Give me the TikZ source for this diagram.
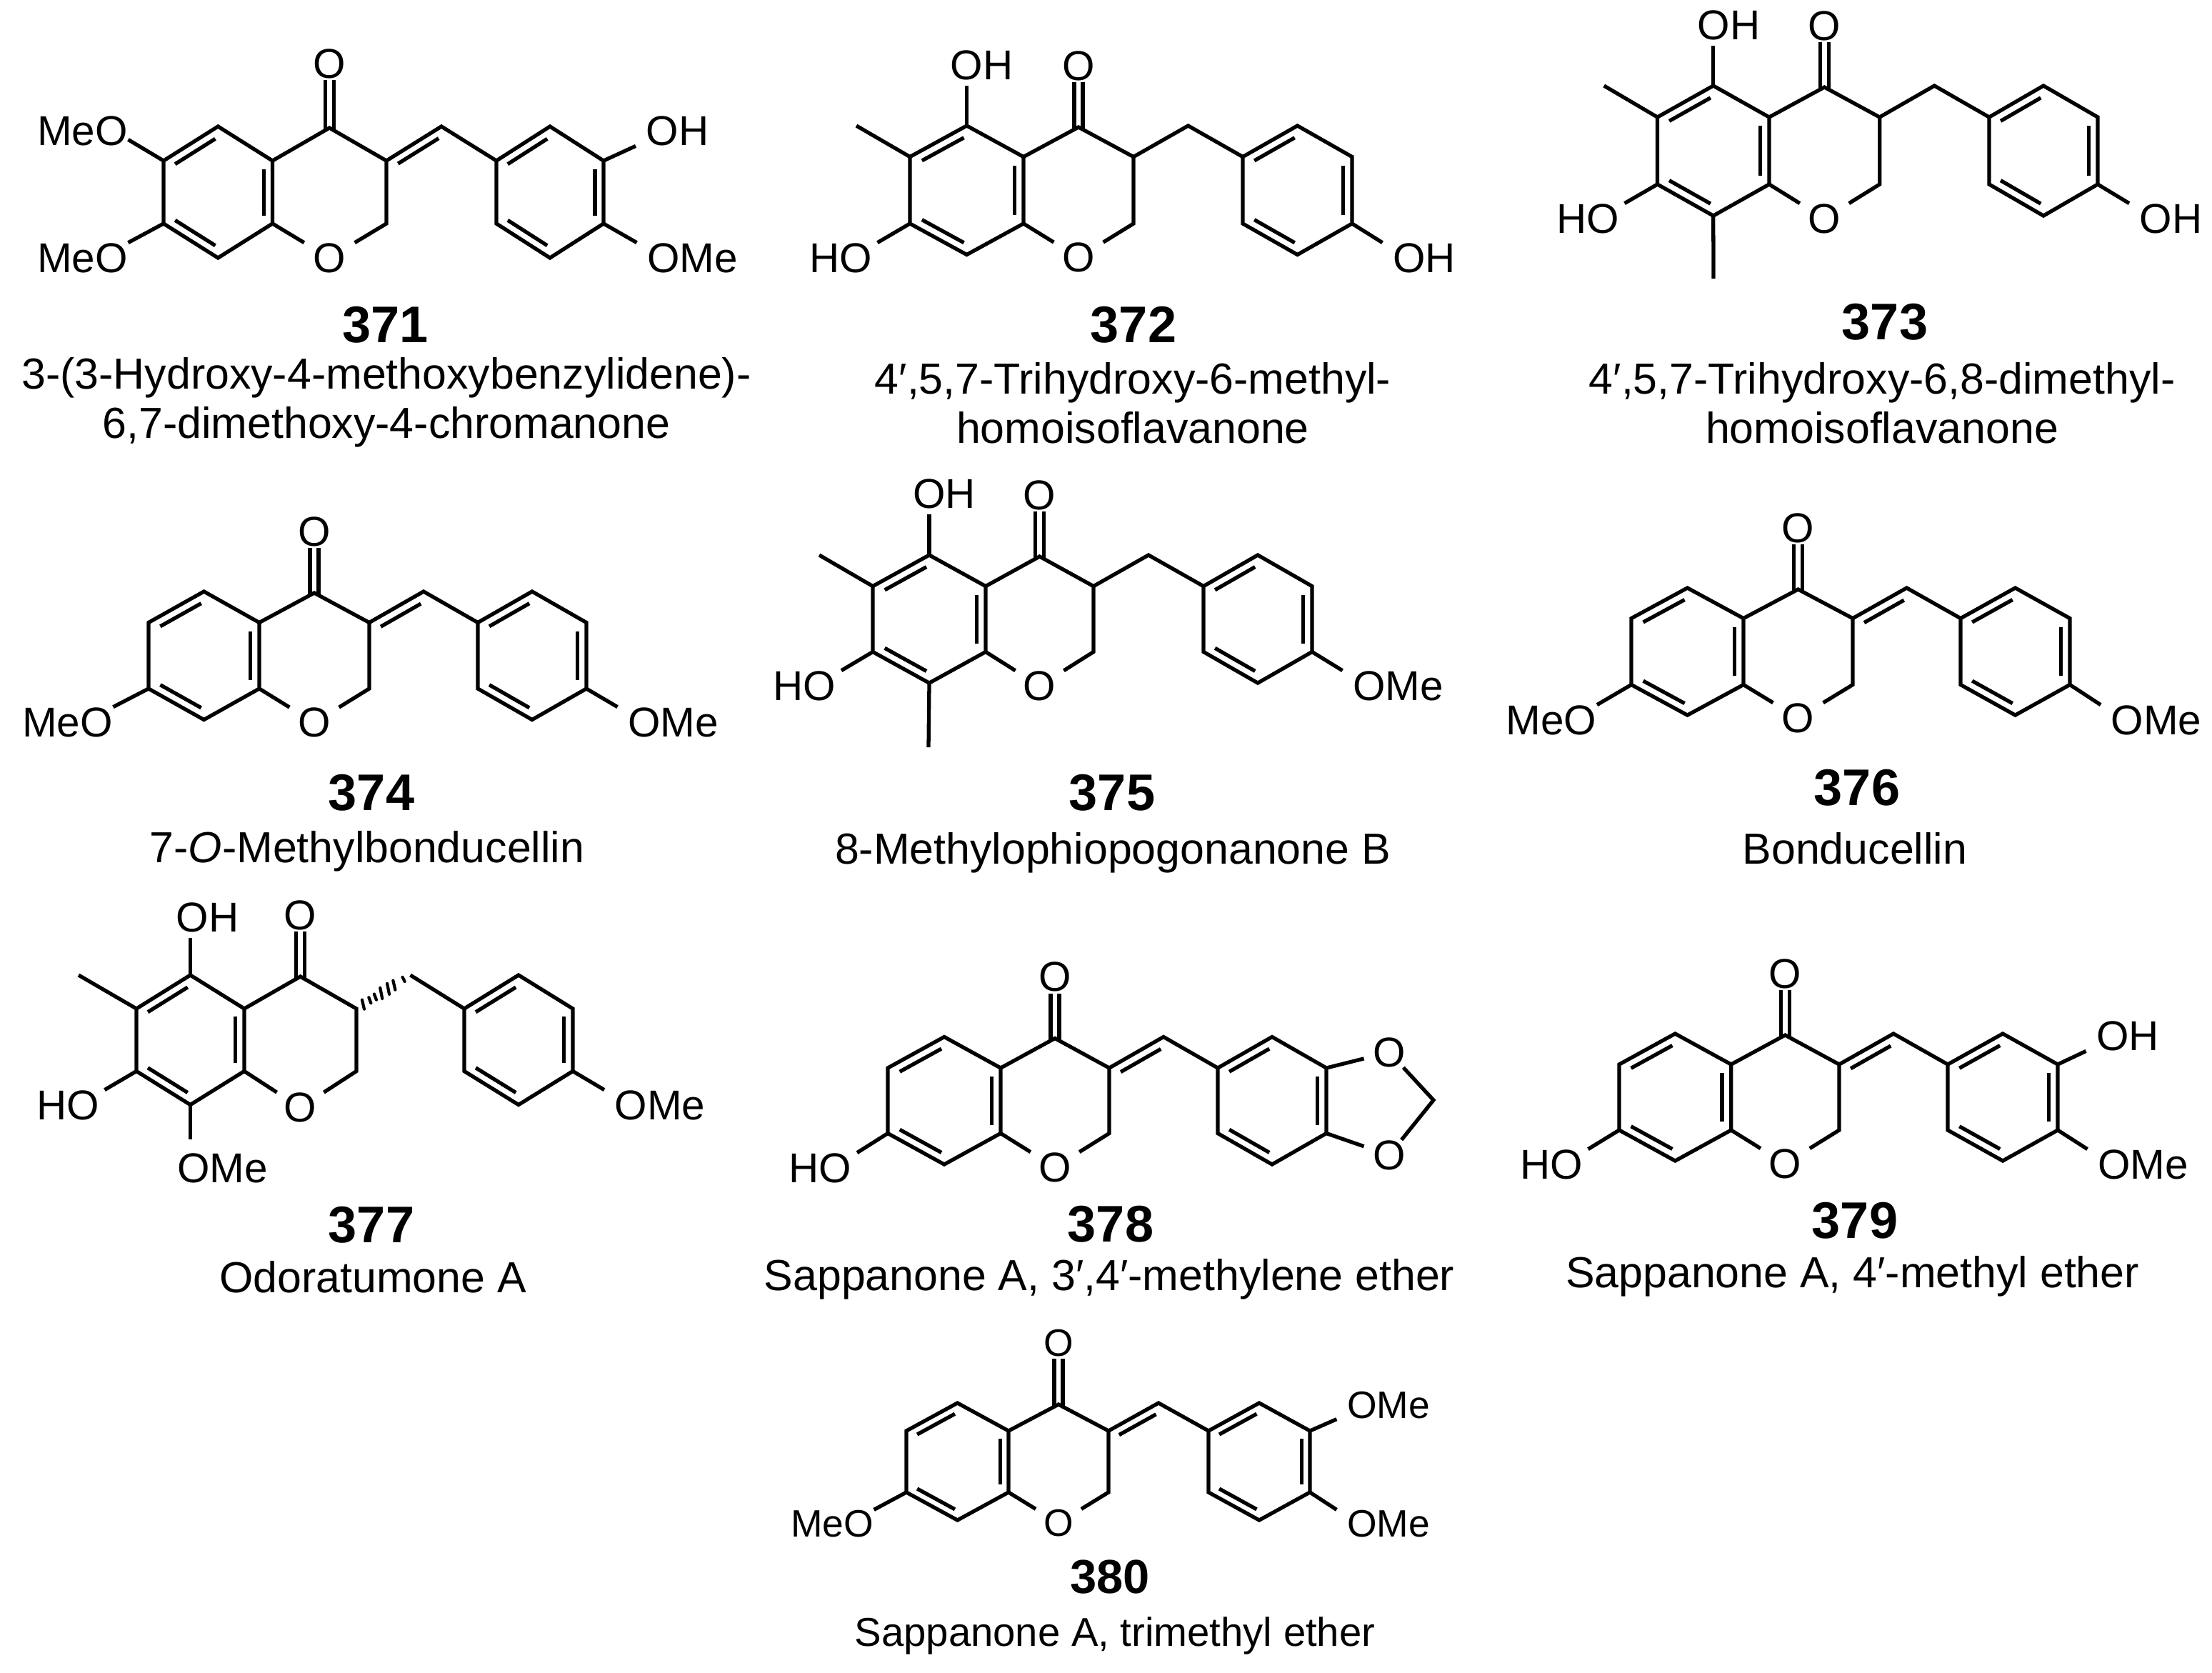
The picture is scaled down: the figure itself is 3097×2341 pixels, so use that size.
\documentclass[tikz,border=0pt]{standalone}
\usepackage{fontspec}
\setmainfont{Liberation Sans}
\usetikzlibrary{calc}

\tikzset{
	bond/.style = {line width=1.5pt},
	gapbond/.style = {bond, shorten >=.075cm},
	hash/.style = {line width=1.2pt, line cap=round},
	atomfont/.style = {font=\fontsize{16.6}{18}\selectfont},
	atom/.style = {atomfont, inner ysep=0pt, inner xsep=0pt},
	atomh/.style = {atom, inner xsep=.07cm},
	atomr/.style = {atom, inner xsep=.14cm},
	ringo/.style = {atom, inner xsep=.12cm},
	num/.style = {font=\fontsize{20.5}{22}\selectfont\bfseries, inner sep=0pt},
	cname/.style = {font=\fontsize{17.3}{19.6}\selectfont, align=center, inner sep=0pt}
}

% #1 prefix, #2..#6 x of c6, c4a, c3, a1, a3, #7..#9 y of c5, c4a, c8a
\newcommand{\skeleton}[9]{
	\coordinate (#1c6) at (#2,#8);
	\coordinate (#1c7) at (#2,#9);
	\coordinate (#1c5) at ({(#2+#3)/2},#7);
	\coordinate (#1c8) at ({(#2+#3)/2},{#9+#8-#7});
	\coordinate (#1c4a) at (#3,#8);
	\coordinate (#1c8a) at (#3,#9);
	\coordinate (#1c4) at ({(#3+#4)/2},{#7+2});
	\coordinate (#1c3) at (#4,#8);
	\coordinate (#1c2) at (#4,#9);
	\coordinate (#1cx) at ({(#4+#5)/2},#7);
	\coordinate (#1a1) at (#5,#8);
	\coordinate (#1a6) at (#5,#9);
	\coordinate (#1a2) at ({(#5+#6)/2},#7);
	\coordinate (#1a5) at ({(#5+#6)/2},{#9+#8-#7});
	\coordinate (#1a3) at (#6,#8);
	\coordinate (#1a4) at (#6,#9);
	% ring centres, for the inner lines of the double bonds
	\coordinate (#1ca) at ({(#2+#3)/2},{(#8+#9)/2});
	\coordinate (#1cb) at ({(#5+#6)/2},{(#8+#9)/2});
	\coordinate (#1ce) at ({(#4+#5)/2},{#7+#9-#8});
	\node[ringo] (#1o1) at ({(#3+#4)/2},{#9+#8-#7+4}) {O};
	\node[ringo] (#1oxo) at ({(#3+#4)/2},{#7-84}) {O};
	\draw[bond] (#1c4a) -- (#1c5) -- (#1c6) -- (#1c7) -- (#1c8) -- (#1c8a) -- cycle;
	\draw[bond] (#1c4a) -- (#1c4) -- (#1c3) -- (#1c2) -- (#1o1) -- (#1c8a);
	\draw[bond] (#1a1) -- (#1a2) -- (#1a3) -- (#1a4) -- (#1a5) -- (#1a6) -- cycle;
	\draw[bond] ($(#1c4)+(-6,4)$) -- ($(#1oxo.south)+(-6,2)$);
	\draw[bond] ($(#1c4)+(6,4)$) -- ($(#1oxo.south)+(6,2)$);
	\inbond{#1c5}{#1c6}{#1ca}
	\inbond{#1c7}{#1c8}{#1ca}
	\inbond{#1c8a}{#1c4a}{#1ca}
	\inbond{#1a1}{#1a2}{#1cb}
	\inbond{#1a3}{#1a4}{#1cb}
	\inbond{#1a5}{#1a6}{#1cb}
}
\newcommand{\inbond}[3]{
	\draw[bond] ($(#1)!.17!(#3)!.05!(#2)$) -- ($(#2)!.17!(#3)!.05!(#1)$);
}
\newcommand{\exodbl}[1]{
	\draw[bond] (#1c3) -- (#1cx) -- (#1a1);
	\inbond{#1c3}{#1cx}{#1ce}
}
\newcommand{\benzyl}[1]{
	\draw[bond] (#1c3) -- (#1cx) -- (#1a1);
}

\begin{document}
\begin{tikzpicture}[x=.01cm, y=-.01cm]
	\useasboundingbox (0,0) rectangle (3097,2341);

	% 371
	\begin{scope}[ringo/.append style = {yshift=.04cm}]
		\skeleton{u}{229}{381.5}{541}{695}{845}{177}{225}{313}
	\end{scope}
	\exodbl{u}
	\node[atom] (uo6) at (115.5,183) {MeO};
	\node[atom] (uo7) at (115.5,361) {MeO};
	\node[atomr] (uoh) at (948.5,183) {OH};
	\node[atomr] (uome) at (969.5,361) {OMe};
	\draw[bond] (uc6) -- (uo6.-11);
	\draw[bond] (uc7) -- (uo7.north east);
	\draw[bond] (ua3) -- (uoh.south west);
	\draw[bond] (ua4) -- (uome.north west);
	\node[num] (un) at (539.5,455) {371};
	\node[cname] at (541,563) {3-(3-Hydroxy-4-methoxybenzylidene)-\\6,7-dimethoxy-4-chromanone};

	% 372
	\skeleton{v}{1274}{1433}{1587}{1740}{1893}{176}{219.5}{313}
	\benzyl{v}
	\coordinate (vme) at (1199,176);
	\node[atom] (voh) at (1374.5,91) {OH};
	\node[atomh] (vho) at (1177,361) {HO};
	\node[atomr] (voh4) at (1994,361) {OH};
	\draw[bond] (vc6) -- (vme);
	\draw[gapbond] (vc5) -- (vc5 |- voh.south);
	\draw[bond] (vc7) -- (vho.north east);
	\draw[bond] (va4) -- (voh4.north west);
	\node[num] (vn) at (1587,455) {372};
	\node[cname] at (1586,564) {4′,5,7-Trihydroxy-6-methyl-\\homoisoflavanone};

	% 373
	\skeleton{w}{2320.5}{2477}{2631.6}{2785}{2937}{120}{164}{258}
	\benzyl{w}
	\coordinate (wme) at (2245.7,120);
	\coordinate (wme8) at (2399,390);
	\node[atom] (woh) at (2420.5,35) {OH};
	\node[atomh] (who) at (2223,306) {HO};
	\node[atomr] (woh4) at (3039.5,306) {OH};
	\draw[bond] (wc6) -- (wme);
	\draw[bond] (wc8) -- (wme8);
	\draw[gapbond] (wc5) -- (wc5 |- woh.south);
	\draw[bond] (wc7) -- (who.north east);
	\draw[bond] (wa4) -- (woh4.north west);
	\node[num] (wn) at (2639,451) {373};
	\node[cname] at (2635,564) {4′,5,7-Trihydroxy-6,8-dimethyl-\\homoisoflavanone};

	% 374
	\skeleton{x}{208}{363}{517}{669}{821}{828}{871.5}{964}
	\exodbl{x}
	\node[atom] (xo7) at (94.5,1011) {MeO};
	\node[atomr] (xome) at (942.5,1011) {OMe};
	\draw[bond] (xc7) -- (xo7.north east);
	\draw[bond] (xa4) -- (xome.north west);
	\node[num] (xn) at (520,1110) {374};
	\node[cname] at (514,1192) {7-\textit{O}-Methylbonducellin};

	% 375
	\skeleton{y}{1222}{1380}{1531}{1685}{1837}{777}{820.6}{912.5}
	\benzyl{y}
	\coordinate (yme) at (1147,777);
	\coordinate (yme8) at (1300,1046);
	\node[atom] (yoh) at (1322,691) {OH};
	\node[atomh] (yho) at (1126.5,960) {HO};
	\node[atomr] (yome) at (1957.5,960) {OMe};
	\draw[bond] (yc6) -- (yme);
	\draw[bond] (yc8) -- (yme8);
	\draw[gapbond] (yc5) -- (yc5 |- yoh.south);
	\draw[bond] (yc7) -- (yho.north east);
	\draw[bond] (ya4) -- (yome.north west);
	\node[num] (yn) at (1557,1110) {375};
	\node[cname] at (1558,1194) {8-Methylophiopogonanone B};

	% 376
	\skeleton{z}{2284}{2441}{2594}{2745}{2898}{823}{865.6}{958.5}
	\exodbl{z}
	\node[atom] (zo7) at (2172,1008) {MeO};
	\node[atomr] (zome) at (3019,1008) {OMe};
	\draw[bond] (zc7) -- (zo7.north east);
	\draw[bond] (za4) -- (zome.north west);
	\node[num] (zn) at (2600,1103) {376};
	\node[cname] at (2597,1188) {Bonducellin};

	% 377
	\skeleton{p}{191}{342}{499}{650}{802}{1365}{1412}{1499.5}
	\draw[bond] (pcx) -- (pa1);
	\foreach \t/\h in {.125/6.5, .25/4, .35/4, .46/7.5, .59/7.5, .70/6.5, .875/3}
		\draw[hash] ($(pc3)!\t!(pcx)+(-1.5,-\h)$) -- ($(pc3)!\t!(pcx)+(1.5,\h)$);
	\coordinate (pme) at (110,1365);
	\node[atom] (poh) at (290.5,1284) {OH};
	\node[atomh] (pho) at (95,1547) {HO};
	\node[atom] (pome8) at (311.5,1635.5) {OMe};
	\node[atomr] (pome) at (924,1547) {OMe};
	\draw[bond] (pc6) -- (pme);
	\draw[gapbond] (pc5) -- (pc5 |- poh.south);
	\draw[bond] (pc7) -- (pho.north east);
	\draw[bond, shorten >=.19cm] (pc8) -- (pc8 |- pome8.north);
	\draw[bond] (pa4) -- (pome.north west);
	\node[num] (pn) at (520,1715) {377};
	\node[cname] at (522,1788) {Odoratumone A};

	% 378
	\skeleton{q}{1243}{1401}{1553}{1705}{1857}{1451.5}{1495}{1586.5}
	\exodbl{q}
	\coordinate (qch) at (2007,1540);
	\node[atomh] (qho) at (1148.5,1635) {HO};
	\node[ringo] (qo3) at (1945,1473) {O};
	\node[ringo] (qo4) at (1945,1617) {O};
	\draw[bond] (qc7) -- (qho.north east);
	\draw[bond] (qa3) -- (qo3) -- (qch) -- (qo4) -- (qa4);
	\node[num] (qn) at (1555,1714) {378};
	\node[cname] at (1553,1791) {Sappanone A, 3′,4′-methylene ether};

	% 379
	\skeleton{r}{2267}{2423.7}{2575}{2727}{2881}{1447}{1490}{1582}
	\exodbl{r}
	\node[atomh] (rho) at (2172,1630) {HO};
	\node[atomr] (roh) at (2979,1450) {OH};
	\node[atomr] (rome) at (3000.5,1630) {OMe};
	\draw[bond] (rc7) -- (rho.north east);
	\draw[bond] (ra3) -- (roh.south west);
	\draw[bond] (ra4) -- (rome.north west);
	\node[num] (rn) at (2597,1709) {379};
	\node[cname] at (2593.5,1787) {Sappanone A, 4′-methyl ether};

	% 380
	\begin{scope}[atomfont/.style = {font=\fontsize{15.2}{17}\selectfont}]
		\skeleton{s}{1269}{1412}{1552}{1692}{1834}{1964}{2003}{2089}
		\exodbl{s}
		\node[atom] (so7) at (1165,2133) {MeO};
		\node[atomr] (some3) at (1944,1967) {OMe};
		\node[atomr] (some4) at (1944,2133) {OMe};
		\draw[bond] (sc7) -- (so7.north east);
		\draw[bond] (sa3) -- (some3.south west);
		\draw[bond] (sa4) -- (some4.north west);
	\end{scope}
	\node[num, font=\fontsize{19}{21}\selectfont\bfseries] (sn) at (1554,2208) {380};
	\node[cname, font=\fontsize{16}{18}\selectfont] at (1561,2290) {Sappanone A, trimethyl ether};
\end{tikzpicture}
\end{document}
